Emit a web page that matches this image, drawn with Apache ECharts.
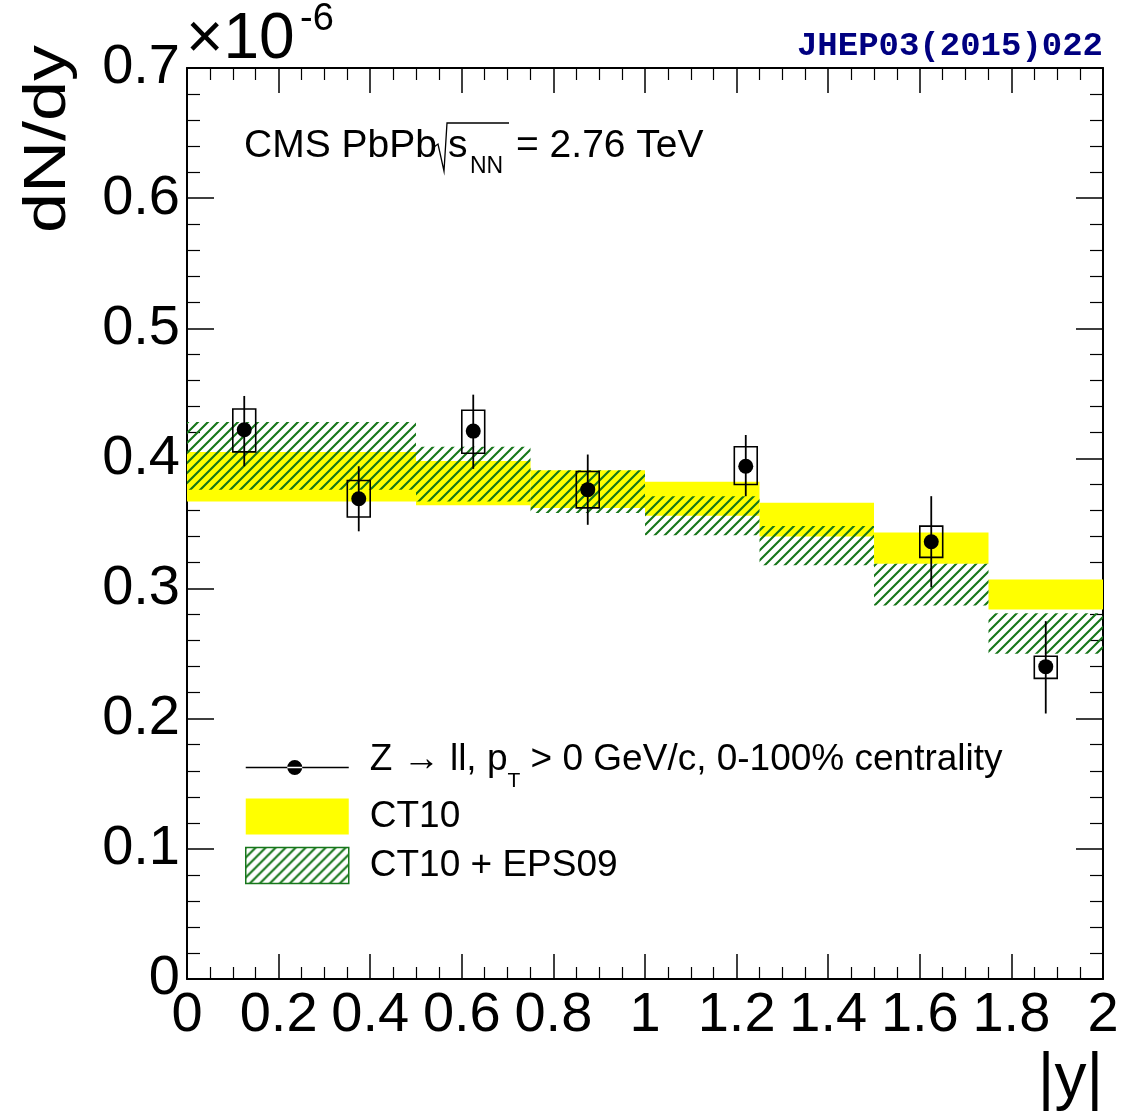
<!DOCTYPE html>
<html>
<head>
<meta charset="utf-8">
<script src="https://cdn.jsdelivr.net/npm/echarts@6/dist/echarts.min.js"></script>
<style>
html, body { margin: 0; padding: 0; background: #fff; }
#chart { width: 1122px; height: 1117px; }
</style>
</head>
<body>
<div id="chart"></div>
<script>
// theory bins in |y| (CT10 and CT10+EPS09 bands), dN/dy in units of 1e-6
var binLo = [0, 0.5, 0.75, 1.0, 1.25, 1.5, 1.75];
var binHi = [0.5, 0.75, 1.0, 1.25, 1.5, 1.75, 2.0];
var ct10Lo = [0.367, 0.364, 0.362, 0.356, 0.340, 0.319, 0.284];
var ct10Hi = [0.405, 0.398, 0.391, 0.382, 0.366, 0.343, 0.307];
var eps09Lo = [0.376, 0.367, 0.358, 0.341, 0.318, 0.287, 0.250];
var eps09Hi = [0.428, 0.409, 0.391, 0.371, 0.348, 0.319, 0.281];

// measured Z -> ll points
var pointX = [0.125, 0.375, 0.625, 0.875, 1.22, 1.625, 1.875];
var pointY = [0.422, 0.369, 0.421, 0.376, 0.394, 0.336, 0.240];
var statLo = [0.394, 0.344, 0.392, 0.349, 0.371, 0.301, 0.204];
var statHi = [0.448, 0.394, 0.449, 0.403, 0.418, 0.371, 0.275];
var sysLo = [0.405, 0.355, 0.404, 0.362, 0.380, 0.324, 0.231];
var sysHi = [0.438, 0.383, 0.437, 0.390, 0.409, 0.348, 0.248];
var boxHalf = 0.025;

var nameData = 'Z → ll, pT > 0 GeV/c, 0-100% centrality';
var nameCT10 = 'CT10';
var nameEPS = 'CT10 + EPS09';

(function () {
var myChart = echarts.init(document.getElementById('chart'));
var FONT = '"Liberation Sans", Helvetica, Arial, sans-serif';
var GREEN = '#16761a';

// diagonal hatch like ROOT fill style
var hatch = document.createElement('canvas');
hatch.width = 10; hatch.height = 10;
var ctx = hatch.getContext('2d');
ctx.strokeStyle = GREEN;
ctx.lineWidth = 2.1;
ctx.beginPath();
ctx.moveTo(-1, 11); ctx.lineTo(11, -1);
ctx.moveTo(-1, 1); ctx.lineTo(1, -1);
ctx.moveTo(9, 11); ctx.lineTo(11, 9);
ctx.stroke();
var hatchFill = { image: hatch, repeat: 'repeat' };

var bandCT10 = binLo.map(function (lo, i) { return [lo, binHi[i], ct10Lo[i], ct10Hi[i]]; });
var bandEPS = binLo.map(function (lo, i) { return [lo, binHi[i], eps09Lo[i], eps09Hi[i]]; });
var sysData = pointX.map(function (x, i) { return [x, sysLo[i], sysHi[i]]; });
var statData = pointX.map(function (x, i) { return [x, statLo[i], statHi[i]]; });
var points = pointX.map(function (x, i) { return [x, pointY[i]]; });

function bandRender(fill) {
  return function (params, api) {
    var a = api.coord([api.value(0), api.value(3)]);
    var b = api.coord([api.value(1), api.value(2)]);
    return {
      type: 'rect',
      shape: { x: a[0], y: a[1], width: b[0] - a[0], height: b[1] - a[1] },
      style: { fill: fill }
    };
  };
}

var xBase = {
  type: 'value', min: 0, max: 2, interval: 0.2,
  splitLine: { show: false },
  axisLine: { show: true, onZero: false, lineStyle: { color: '#000', width: 2 } },
  axisTick: { show: true, inside: true, length: 25, lineStyle: { color: '#000', width: 1.5 } },
  minorTick: { show: true, splitNumber: 4, length: 12, lineStyle: { color: '#000', width: 1.2 } }
};
var yBase = {
  type: 'value', min: 0, max: 0.7, interval: 0.1,
  splitLine: { show: false },
  axisLine: { show: true, onZero: false, lineStyle: { color: '#000', width: 2 } },
  axisTick: { show: true, inside: true, length: 27, lineStyle: { color: '#000', width: 1.5 } },
  minorTick: { show: true, splitNumber: 5, length: 13, lineStyle: { color: '#000', width: 1.2 } }
};

option = {
  backgroundColor: '#fff',
  animation: false,
  grid: { left: 187, right: 19, top: 68, bottom: 138 },
  xAxis: [
    Object.assign({}, xBase, { position: 'bottom',
      axisLabel: { fontSize: 56, fontFamily: FONT, color: '#000', margin: 9 } }),
    Object.assign({}, xBase, { position: 'top', axisLabel: { show: false } })
  ],
  yAxis: [
    Object.assign({}, yBase, { position: 'left',
      axisLabel: { fontSize: 56, fontFamily: FONT, color: '#000', margin: 7 } }),
    Object.assign({}, yBase, { position: 'right', axisLabel: { show: false } })
  ],
  legend: {
    orient: 'vertical', left: 245, top: 741, padding: 0, itemGap: -4,
    itemWidth: 103, itemHeight: 36, selectedMode: false,
    textStyle: {
      fontFamily: FONT, fontSize: 37, color: '#000', padding: [0, 0, 0, 16],
      rich: {
        n: { fontFamily: FONT, fontSize: 37, color: '#000', lineHeight: 36, padding: [0, 0, 16, 0] },
        s: { fontFamily: FONT, fontSize: 21, color: '#000', lineHeight: 21, padding: [27, 0, 0, 0] },
        m: { fontFamily: FONT, fontSize: 37, color: '#000', lineHeight: 36, padding: [8, 0, 8, 0] }
      }
    },
    formatter: function (name) {
      if (name === nameData) {
        return '{n|Z → ll, p}{s|T}{n| > 0 GeV/c, 0-100% centrality}';
      }
      return '{m|' + name + '}';
    },
    data: [
      { name: nameData, icon: 'path://M0,0M103,36M0,17.25h103v1.5h-103zM56.5,18a7.5,7.5 0 1,0 -15,0a7.5,7.5 0 1,0 15,0z',
        itemStyle: { color: '#000', borderWidth: 0, opacity: 1 } },
      { name: nameCT10, icon: 'rect', itemStyle: { color: '#ffff00', borderWidth: 0, opacity: 1 } },
      { name: nameEPS, icon: 'rect', itemStyle: { color: hatchFill, borderColor: GREEN, borderWidth: 1.5, opacity: 1 } }
    ]
  },
  graphic: [
    { type: 'text', x: 1103, y: 46, style: { text: 'JHEP03(2015)022', fill: '#000080',
      font: 'bold 34px "Liberation Mono", "Courier New", monospace', align: 'right', verticalAlign: 'middle' } },
    { type: 'text', x: 186, y: 40, style: { text: '×10', fill: '#000',
      font: '64px ' + FONT, align: 'left', verticalAlign: 'middle' } },
    { type: 'text', x: 300, y: 20, style: { text: '-6', fill: '#000',
      font: '38px ' + FONT, align: 'left', verticalAlign: 'middle' } },
    { type: 'text', x: 48, y: 45, rotation: Math.PI / 2, scaleX: 1.2, style: { text: 'dN/dy', fill: '#000',
      font: '60px ' + FONT, align: 'right', verticalAlign: 'middle' } },
    { type: 'text', x: 1103, y: 1080, style: { text: '|y|', fill: '#000',
      font: '64px ' + FONT, align: 'right', verticalAlign: 'middle' } },
    { type: 'text', x: 244, y: 146, style: { text: 'CMS PbPb', fill: '#000',
      font: '39px ' + FONT, align: 'left', verticalAlign: 'middle' } },
    { type: 'polyline', shape: { points: [[434, 147], [438, 144], [444, 171], [447, 123], [509, 123]] },
      style: { stroke: '#000', lineWidth: 1.3, fill: null } },
    { type: 'text', x: 448, y: 146, style: { text: 's', fill: '#000',
      font: '39px ' + FONT, align: 'left', verticalAlign: 'middle' } },
    { type: 'text', x: 470, y: 167, style: { text: 'NN', fill: '#000',
      font: '23px ' + FONT, align: 'left', verticalAlign: 'middle' } },
    { type: 'text', x: 516, y: 146, style: { text: '= 2.76 TeV', fill: '#000',
      font: '39px ' + FONT, align: 'left', verticalAlign: 'middle' } }
  ],
  series: [
    { name: nameCT10, type: 'custom', renderItem: bandRender('#ffff00'), data: bandCT10,
      itemStyle: { color: '#ffff00' }, z: 1 },
    { name: nameEPS, type: 'custom', renderItem: bandRender(hatchFill), data: bandEPS,
      itemStyle: { color: GREEN }, z: 2 },
    { name: 'sys', type: 'custom', z: 3, data: sysData,
      renderItem: function (params, api) {
        var a = api.coord([api.value(0) - boxHalf, api.value(2)]);
        var b = api.coord([api.value(0) + boxHalf, api.value(1)]);
        return { type: 'rect', shape: { x: a[0], y: a[1], width: b[0] - a[0], height: b[1] - a[1] },
          style: { fill: null, stroke: '#000', lineWidth: 1.6 } };
      } },
    { name: 'stat', type: 'custom', z: 4, data: statData,
      renderItem: function (params, api) {
        var a = api.coord([api.value(0), api.value(2)]);
        var b = api.coord([api.value(0), api.value(1)]);
        return { type: 'line', shape: { x1: a[0], y1: a[1], x2: b[0], y2: b[1] },
          style: { stroke: '#000', lineWidth: 1.8 } };
      } },
    { name: nameData, type: 'scatter', data: points, symbol: 'circle', symbolSize: 15,
      itemStyle: { color: '#000', opacity: 1 }, z: 5 }
  ]
};

myChart.setOption(option);

window.addEventListener('resize', function () {
  myChart.resize();
});
})();
</script>
</body>
</html>
